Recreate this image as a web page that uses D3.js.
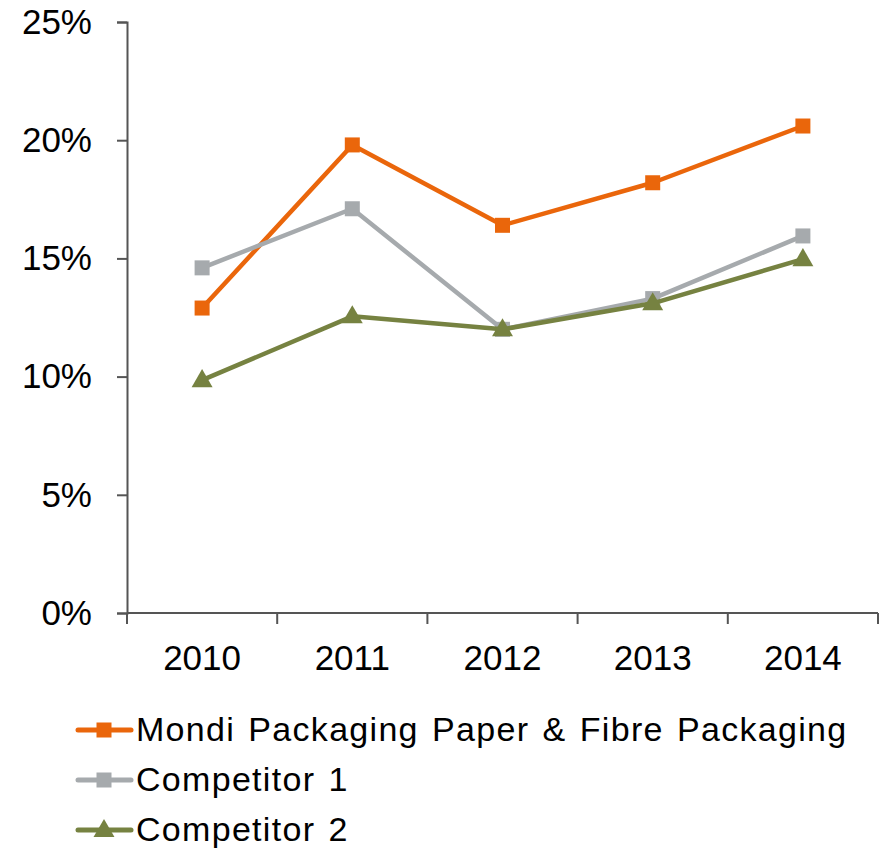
<!DOCTYPE html>
<html>
<head>
<meta charset="utf-8">
<script src="https://cdn.jsdelivr.net/npm/d3@7"></script>
<style>
  body { margin: 0; background: #fff; }
  text { font-family: "Liberation Sans", Arial, sans-serif; fill: #000; }
</style>
</head>
<body>
<div id="chart"></div>
<script>
const years = ["2010", "2011", "2012", "2013", "2014"];
const mondi = [12.9, 19.8, 16.4, 18.2, 20.6];
const comp1 = [14.6, 17.1, 12.0, 13.3, 15.95];
const comp2 = [9.85, 12.55, 12.0, 13.1, 14.97];
const yTicks = [0, 5, 10, 15, 20, 25];

const series = [
  {name: "Mondi Packaging Paper & Fibre Packaging", values: mondi, color: "#ea660b", marker: "square"},
  {name: "Competitor 1", values: comp1, color: "#a6aaad", marker: "square"},
  {name: "Competitor 2", values: comp2, color: "#768241", marker: "triangle"}
];

const width = 882, height = 849;
const margin = {top: 22, left: 127, right: 4, bottom: 236};

const svg = d3.select("#chart").append("svg")
    .attr("width", width)
    .attr("height", height);

const x = d3.scaleBand()
    .domain(years)
    .range([margin.left, 878])
    .padding(0);

const y = d3.scaleLinear()
    .domain([0, 25])
    .range([613, margin.top]);

// y axis
const yAxis = svg.append("g")
    .attr("transform", `translate(${margin.left},0)`)
    .call(d3.axisLeft(y).tickValues(yTicks).tickSize(10).tickPadding(25).tickFormat(d => d + "%"));
yAxis.select(".domain").attr("stroke", "#555").attr("stroke-width", 2);
yAxis.selectAll(".tick line").attr("stroke", "#555").attr("stroke-width", 2);
yAxis.selectAll(".tick text")
    .attr("font-size", 35)
    .attr("fill", "#000")
    .style("font-family", "Liberation Sans, Arial, sans-serif");

// x axis with ticks at band edges
const xAxis = svg.append("g")
    .attr("transform", `translate(0,${y(0)})`);
xAxis.append("line")
    .attr("x1", margin.left).attr("x2", 878)
    .attr("stroke", "#555").attr("stroke-width", 2);
const edges = years.map(d => x(d)).concat([x(years[years.length - 1]) + x.bandwidth()]);
xAxis.selectAll("line.tk")
    .data(edges).enter().append("line")
    .attr("class", "tk")
    .attr("x1", d => d).attr("x2", d => d)
    .attr("y1", 0).attr("y2", 11)
    .attr("stroke", "#555").attr("stroke-width", 2);
xAxis.selectAll("text")
    .data(years).enter().append("text")
    .attr("x", d => x(d) + x.bandwidth() / 2)
    .attr("y", 57)
    .attr("text-anchor", "middle")
    .attr("font-size", 35)
    .text(d => d);

const line = d3.line()
    .x((d, i) => x(years[i]) + x.bandwidth() / 2)
    .y(d => y(d));

const tri = d3.symbol().type(d3.symbolTriangle).size(190);

function drawMarker(g, s, cx, cy) {
  if (s.marker === "square") {
    g.append("rect")
      .attr("x", cx - 7.5).attr("y", cy - 7.5)
      .attr("width", 15).attr("height", 15)
      .attr("fill", s.color);
  } else {
    g.append("path")
      .attr("d", tri())
      .attr("transform", `translate(${cx},${cy + 1})`)
      .attr("fill", s.color);
  }
}

series.forEach(s => {
  const g = svg.append("g");
  g.append("path")
    .datum(s.values)
    .attr("d", line)
    .attr("fill", "none")
    .attr("stroke", s.color)
    .attr("stroke-width", 4.5)
    .attr("stroke-linejoin", "round");
  s.values.forEach((v, i) => {
    drawMarker(g, s, x(years[i]) + x.bandwidth() / 2, y(v));
  });
});

// legend
const legend = svg.append("g");
series.forEach((s, i) => {
  const ly = 730 + i * 50;
  const g = legend.append("g");
  g.append("line")
    .attr("x1", 78).attr("x2", 131)
    .attr("y1", ly).attr("y2", ly)
    .attr("stroke", s.color)
    .attr("stroke-width", 5)
    .attr("stroke-linecap", "round");
  drawMarker(g, s, 104, ly);
  g.append("text")
    .attr("x", 136)
    .attr("y", ly + 11)
    .attr("font-size", 34)
    .attr("letter-spacing", 1.3)
    .attr("word-spacing", 2.5)
    .text(s.name);
});
</script>
</body>
</html>
